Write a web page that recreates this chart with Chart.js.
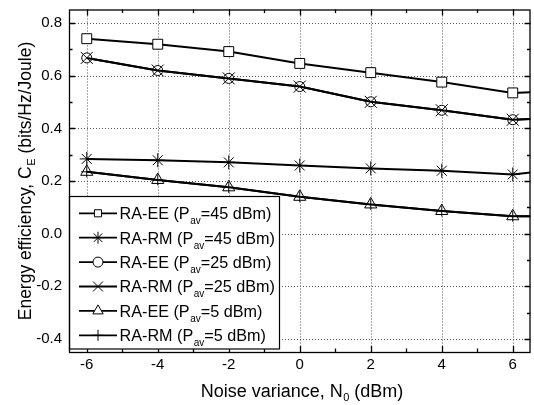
<!DOCTYPE html>
<html><head><meta charset="utf-8">
<script src="https://cdn.jsdelivr.net/npm/chart.js@4/dist/chart.umd.min.js"></script>
<style>
html,body{margin:0;padding:0;background:#fff;overflow:hidden;width:534px;height:405px}
#wrap{width:540px;height:405px;position:relative}
</style></head>
<body><div id="wrap"><canvas id="c" width="540" height="405"></canvas></div>
<script>
// ---- data ----
const xValues = [-6, -4, -2, 0, 2, 4, 6, 6.5];
const eeP45 = [0.741, 0.720, 0.692, 0.647, 0.612, 0.576, 0.535, 0.537];
const rmP45 = [0.284, 0.279, 0.271, 0.259, 0.248, 0.239, 0.225, 0.232];
const eeP25 = [0.668, 0.620, 0.590, 0.559, 0.501, 0.469, 0.433, 0.436];
const rmP25 = [0.668, 0.620, 0.590, 0.559, 0.501, 0.469, 0.433, 0.436];
const eeP5  = [0.235, 0.204, 0.176, 0.140, 0.111, 0.086, 0.066, 0.066];
const rmP5  = [0.235, 0.204, 0.176, 0.140, 0.111, 0.086, 0.066, 0.066];
const xTicks = [-6, -4, -2, 0, 2, 4, 6];
const xTickLabels = ['-6', '-4', '-2', '0', '2', '4', '6'];
const yTicks = [-0.4, -0.2, 0, 0.2, 0.4, 0.6, 0.8];
const yTickLabels = ['-0.4', '-0.2', '0.0', '0.2', '0.4', '0.6', '0.8'];
const seriesNames = ['RA-EE', 'RA-RM', 'RA-EE', 'RA-RM', 'RA-EE', 'RA-RM'];
const seriesPower = ['45', '45', '25', '25', '5', '5'];
const xTitle = ['Noise variance, N', '0', ' (dBm)'];
const yTitle = ['Energy efficiency, C', 'E', ' (bits/Hz/Joule)'];

// ---- styles ----
const FONT = '"Liberation Sans", Arial, sans-serif';
const markers = [
  {style: 'rect', r: 7, lr: 5, fill: '#fff'},
  {style: 'star', r: 7, lr: 6, fill: '#000'},
  {style: 'circle', r: 5, lr: 5, fill: '#fff'},
  {style: 'crossRot', r: 8.5, lr: 7, fill: '#000'},
  {style: 'triangle', r: 7, lr: 6, fill: '#fff'},
  {style: 'cross', r: 5.5, lr: 5.5, fill: '#000'}
];
const allSeries = [eeP45, rmP45, eeP25, rmP25, eeP5, rmP5];

const datasets = allSeries.map((vals, i) => ({
  label: seriesNames[i] + ' (Pav=' + seriesPower[i] + ' dBm)',
  data: xValues.map((x, k) => ({x: x, y: vals[k]})),
  borderColor: '#000',
  borderWidth: 2,
  tension: 0,
  pointStyle: markers[i].style,
  pointRadius: xValues.map(x => x > 6 ? 0 : markers[i].r),
  pointBackgroundColor: markers[i].fill,
  pointBorderColor: '#000',
  pointBorderWidth: 1,
  order: 10 - i
}));

function drawMarker(ctx, style, x, y, r, fill) {
  ctx.save();
  ctx.lineWidth = 1; ctx.strokeStyle = '#000'; ctx.fillStyle = fill; ctx.setLineDash([]);
  ctx.beginPath();
  const q = Math.SQRT1_2 * r;
  if (style === 'rect') { ctx.rect(x - q, y - q, 2 * q, 2 * q); ctx.fill(); ctx.stroke(); }
  else if (style === 'circle') { ctx.arc(x, y, r, 0, Math.PI * 2); ctx.fill(); ctx.stroke(); }
  else if (style === 'triangle') {
    ctx.moveTo(x, y - r);
    ctx.lineTo(x + r * Math.cos(Math.PI / 6), y + r * 0.5);
    ctx.lineTo(x - r * Math.cos(Math.PI / 6), y + r * 0.5);
    ctx.closePath(); ctx.fill(); ctx.stroke();
  } else {
    if (style === 'cross' || style === 'star') {
      ctx.moveTo(x, y - r); ctx.lineTo(x, y + r);
      ctx.moveTo(x - r, y); ctx.lineTo(x + r, y);
    }
    if (style === 'crossRot' || style === 'star') {
      ctx.moveTo(x - q, y - q); ctx.lineTo(x + q, y + q);
      ctx.moveTo(x - q, y + q); ctx.lineTo(x + q, y - q);
    }
    ctx.stroke();
  }
  ctx.restore();
}

function drawSubText(ctx, parts, x, y, size, subSize, subDrop) {
  ctx.font = size + 'px ' + FONT;
  ctx.fillText(parts[0], x, y);
  x += ctx.measureText(parts[0]).width;
  ctx.font = subSize + 'px ' + FONT;
  ctx.fillText(parts[1], x + 0.5, y + subDrop);
  x += ctx.measureText(parts[1]).width + 0.5;
  ctx.font = size + 'px ' + FONT;
  ctx.fillText(parts[2], x, y);
  return x + ctx.measureText(parts[2]).width;
}
function subTextWidth(ctx, parts, size, subSize) {
  ctx.font = size + 'px ' + FONT;
  let w = ctx.measureText(parts[0]).width + ctx.measureText(parts[2]).width;
  ctx.font = subSize + 'px ' + FONT;
  return w + ctx.measureText(parts[1]).width + 0.5;
}

const decor = {
  id: 'decor',
  beforeDatasetsDraw(chart) {
    const {ctx, chartArea: a, scales: {x, y}} = chart;
    ctx.save();
    ctx.strokeStyle = '#555'; ctx.lineWidth = 1; ctx.setLineDash([1, 2]);
    ctx.beginPath();
    xTicks.forEach(v => { const p = Math.round(x.getPixelForValue(v)) + 0.5; ctx.moveTo(p, a.top); ctx.lineTo(p, a.bottom); });
    yTicks.forEach(v => { const p = Math.round(y.getPixelForValue(v)) + 0.5; ctx.moveTo(a.left, p); ctx.lineTo(a.right, p); });
    ctx.stroke();
    ctx.restore();
  },
  afterDatasetsDraw(chart) {
    const {ctx, chartArea: a, scales: {x, y}} = chart;
    ctx.save();
    ctx.setLineDash([]);
    ctx.strokeStyle = '#000'; ctx.lineWidth = 1.3;
    ctx.beginPath();
    const xs = [], ys = [];
    for (let i = 0; i < xTicks.length; i++) {
      xs.push([xTicks[i], 6]);
      if (i < xTicks.length - 1) xs.push([(xTicks[i] + xTicks[i + 1]) / 2, 3.5]);
    }
    for (let i = 0; i < yTicks.length; i++) {
      ys.push([yTicks[i], 6]);
      if (i < yTicks.length - 1) ys.push([(yTicks[i] + yTicks[i + 1]) / 2, 3.5]);
    }
    xs.forEach(([v, L]) => {
      const p = Math.round(x.getPixelForValue(v)) + 0.5;
      ctx.moveTo(p, a.bottom); ctx.lineTo(p, a.bottom - L);
      ctx.moveTo(p, a.top); ctx.lineTo(p, a.top + L);
    });
    ys.forEach(([v, L]) => {
      const p = Math.round(y.getPixelForValue(v)) + 0.5;
      ctx.moveTo(a.left, p); ctx.lineTo(a.left + L, p);
      ctx.moveTo(a.right, p); ctx.lineTo(a.right - L, p);
    });
    ctx.stroke();

    // legend
    const lx = a.left + 0.5, ly = 196.5, lw = 210, lh = 152.5;
    ctx.fillStyle = '#fff';
    ctx.fillRect(lx, ly, lw, lh);
    ctx.lineWidth = 1.2; ctx.strokeStyle = '#000';
    ctx.strokeRect(lx, ly, lw, lh);
    const rowY0 = 213.3, rowStep = 24.4;
    for (let i = 0; i < 6; i++) {
      const cy = rowY0 + i * rowStep;
      ctx.beginPath(); ctx.lineWidth = 1.8; ctx.strokeStyle = '#000';
      ctx.moveTo(79, cy); ctx.lineTo(117, cy); ctx.stroke();
      drawMarker(ctx, markers[i].style, 98, cy, markers[i].lr, markers[i].fill);
      ctx.fillStyle = '#000'; ctx.textBaseline = 'alphabetic'; ctx.textAlign = 'left';
      drawSubText(ctx, [seriesNames[i] + ' (P', 'av', '=' + seriesPower[i] + ' dBm)'], 119.5, cy + 5.8, 16.2, 10, 5);
    }

    // frame
    ctx.lineWidth = 1.3; ctx.strokeStyle = '#000';
    ctx.strokeRect(a.left + 0.5, a.top + 0.5, a.right - a.left - 1, a.bottom - a.top);
    ctx.restore();
  },
  afterDraw(chart) {
    const {ctx} = chart;
    ctx.save();
    ctx.fillStyle = '#000'; ctx.textBaseline = 'alphabetic'; ctx.textAlign = 'left';
    const wx = subTextWidth(ctx, xTitle, 18, 11);
    drawSubText(ctx, xTitle, 302 - wx / 2, 397, 18, 11, 4);
    ctx.translate(31, 181);
    ctx.rotate(-Math.PI / 2);
    const wy = subTextWidth(ctx, yTitle, 17.5, 11);
    drawSubText(ctx, yTitle, -wy / 2, 0, 17.5, 11, 4);
    ctx.restore();
  }
};

new Chart(document.getElementById('c'), {
  type: 'line',
  data: {datasets: datasets},
  options: {
    responsive: false,
    devicePixelRatio: 1,
    animation: false,
    layout: {padding: {top: 5, right: 4, left: 0, bottom: 0}},
    plugins: {legend: {display: false}, tooltip: {enabled: false}},
    scales: {
      x: {
        type: 'linear', min: -6.5, max: 6.5,
        grid: {display: false, drawTicks: false}, border: {display: false},
        ticks: {color: '#000', font: {family: FONT, size: 15}, padding: 4, maxRotation: 0,
          callback: (v, i) => xTickLabels[i]},
        afterBuildTicks: s => { s.ticks = xTicks.map(v => ({value: v})); },
        afterFit: s => { s.height = 53; s.paddingLeft = 0; s.paddingRight = 0; }
      },
      y: {
        type: 'linear', min: -0.45, max: 0.852,
        grid: {display: false, drawTicks: false}, border: {display: false},
        ticks: {color: '#000', font: {family: FONT, size: 15}, padding: 7,
          callback: (v, i) => yTickLabels[i]},
        afterBuildTicks: s => { s.ticks = yTicks.map(v => ({value: v})); },
        afterFit: s => { s.width = 69; s.paddingTop = 0; s.paddingBottom = 0; }
      }
    }
  },
  plugins: [decor]
});
</script>
</body></html>
